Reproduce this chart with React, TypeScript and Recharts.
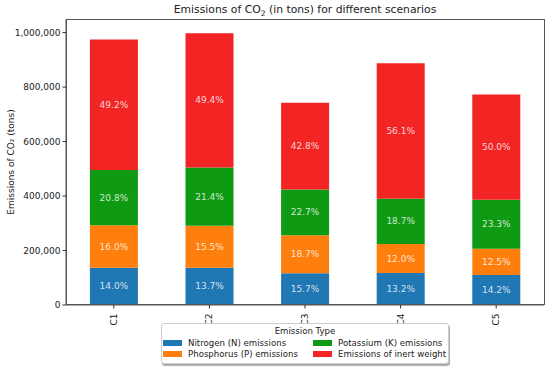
import React from 'react'
import { BarChart, Bar, XAxis, YAxis, LabelList } from 'recharts'

const scenarios = ['C1', 'C2', 'C3', 'C4', 'C5']
const nitrogen = [136500, 136700, 116700, 117200, 109800]
const phosphorus = [156000, 154700, 139000, 106600, 96600]
const potassium = [202800, 213600, 168700, 166000, 180100]
const inert = [479700, 493000, 318000, 498200, 386500]
const yTicks = [0, 200000, 400000, 600000, 800000, 1000000]

const series = [
  { key: 'nitrogen', name: 'Nitrogen (N) emissions', color: '#1f77b4' },
  { key: 'phosphorus', name: 'Phosphorus (P) emissions', color: '#ff7f0e' },
  { key: 'potassium', name: 'Potassium (K) emissions', color: '#0e9a12' },
  { key: 'inert', name: 'Emissions of inert weight', color: '#f22424' },
]

const data = scenarios.map((s, i) => ({
  scenario: s,
  nitrogen: nitrogen[i],
  phosphorus: phosphorus[i],
  potassium: potassium[i],
  inert: inert[i],
  total: nitrogen[i] + phosphorus[i] + potassium[i] + inert[i],
}))

const font = '"DejaVu Sans", sans-serif'

function PctLabel(props: any) {
  const { x, y, width, height, index, value } = props
  const pct = (value / data[index].total) * 100
  return (
    <text
      x={x + width / 2}
      y={y + height / 2}
      textAnchor="middle"
      dominantBaseline="central"
      fill="#fff"
      fillOpacity={0.8}
      fontSize={9}
      fontFamily={font}
    >
      {pct.toFixed(1)}%
    </text>
  )
}

function RotTick(props: any) {
  const { x, y, payload } = props
  return (
    <text
      transform={`translate(${x},${y + 3}) rotate(-90)`}
      textAnchor="end"
      dominantBaseline="central"
      fontSize={9}
      fontFamily={font}
      fill="#222"
    >
      {payload.value}
    </text>
  )
}

export default function App() {
  return (
    <div style={{ position: 'absolute', left: 0, top: 0, width: 550, height: 371, background: '#fff', fontFamily: font }}>
      <div style={{ position: 'absolute', left: 66, width: 478, top: 3, textAlign: 'center', fontSize: 10.8, color: '#222' }}>
        Emissions of CO<sub style={{ fontSize: 7.5 }}>2</sub> (in tons) for different scenarios
      </div>
      <BarChart
        width={550}
        height={371}
        data={data}
        margin={{ top: 19, right: 6, bottom: 0, left: 6 }}
        barCategoryGap="25%"
      >
        <XAxis
          dataKey="scenario"
          height={66}
          tick={<RotTick />}
          tickLine={{ stroke: '#333' }}
          tickSize={3.5}
          axisLine={{ stroke: '#555' }}
          interval={0}
        />
        <YAxis
          width={60}
          domain={[0, 1050000]}
          ticks={yTicks}
          allowDataOverflow
          tickFormatter={(v: number) => v.toLocaleString('en-US')}
          tick={{ fontSize: 9, fill: '#222', fontFamily: font }}
          tickLine={{ stroke: '#333' }}
          tickSize={3.5}
          axisLine={{ stroke: '#555' }}
          label={{
            value: 'Emissions of CO₂ (tons)',
            angle: -90,
            position: 'insideLeft',
            dx: 0,
            style: { fontSize: 9, fill: '#222', fontFamily: font, textAnchor: 'middle' },
          }}
        />
        {series.map((s) => (
          <Bar key={s.key} dataKey={s.key} name={s.name} stackId="a" fill={s.color} isAnimationActive={false}>
            <LabelList dataKey={s.key} content={<PctLabel />} />
          </Bar>
        ))}
      </BarChart>
      {/* frame (top and right spines) */}
      <div
        style={{
          position: 'absolute',
          left: 66,
          top: 19,
          width: 479,
          height: 286,
          boxSizing: 'border-box',
          border: '1px solid #555',
          pointerEvents: 'none',
        }}
      />
      <div
        style={{
          position: 'absolute',
          left: 161,
          top: 323,
          width: 288,
          height: 41,
          boxSizing: 'border-box',
          border: '1px solid #ccc',
          borderRadius: 3,
          boxShadow: '1px 2px 1px #aaa',
          background: '#fff',
          fontSize: 8.6,
          color: '#222',
        }}
      >
        <div style={{ textAlign: 'center', marginTop: 1, lineHeight: '12px' }}>Emission Type</div>
        <div style={{ display: 'grid', gridTemplateColumns: '150px 134px', gridAutoFlow: 'column', gridTemplateRows: '11.5px 11.5px', paddingLeft: 1 }}>
          {series.map((s) => (
            <div key={s.key} style={{ display: 'flex', alignItems: 'center', whiteSpace: 'nowrap' }}>
              <span style={{ display: 'inline-block', width: 19, height: 6, background: s.color, marginRight: 6 }} />
              {s.name}
            </div>
          ))}
        </div>
      </div>
    </div>
  )
}
